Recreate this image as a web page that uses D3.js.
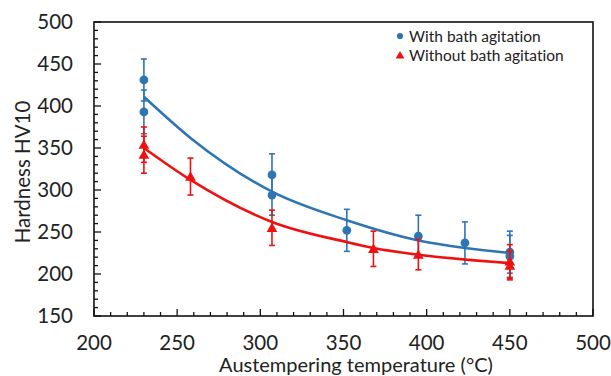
<!DOCTYPE html>
<html>
<head>
<meta charset="utf-8">
<script src="https://cdn.jsdelivr.net/npm/d3@7"></script>
<style>
  body { margin: 0; background: #fff; }
  svg text { font-family: Lato, "Open Sans", sans-serif; fill: #222; font-variant-ligatures: none; }
</style>
</head>
<body>
<svg id="chart" width="611" height="376"></svg>
<script>
const withTemp = [230, 230, 307, 307, 352, 395, 423, 450, 450];
const withHard = [431, 393, 318, 294, 252, 245, 237, 226, 221];
const withErr = [25, 26, 25, 24, 25, 25, 25, 25, 25];

const withoutTemp = [230, 230, 258, 307, 368, 395, 450, 450];
const withoutHard = [354, 342, 316, 255, 230, 223, 215, 210];
const withoutErr = [21, 22, 22, 21, 21, 18, 20, 17];

// trend lines
const withTrendT = [230, 258, 307, 352, 395, 423, 450];
const withTrendH = [411, 362, 298, 264, 240, 231, 225];
const withoutTrendT = [230, 258, 307, 352, 368, 395, 450];
const withoutTrendH = [350, 312, 262, 238, 231, 223, 213];

const xTicks = [200, 250, 300, 350, 400, 450, 500];
const yTicks = [150, 200, 250, 300, 350, 400, 450, 500];
const legendLabels = ["With bath agitation", "Without bath agitation"];

const blue = "#2e75b6";
const red = "#ee1111";

const size = { left: 94, right: 593, top: 22, bottom: 316 };

const svg = d3.select("#chart");

const x = d3.scaleLinear([200, 500], [size.left, size.right]);
const y = d3.scaleLinear([150, 500], [size.bottom, size.top]);

// frame
svg.append("rect")
  .attr("x", size.left).attr("y", size.top)
  .attr("width", size.right - size.left).attr("height", size.bottom - size.top)
  .attr("fill", "none").attr("stroke", "#111").attr("stroke-width", 1.6);

// inward ticks, minor every 10
const xMinor = d3.range(200, 501, 10);
const yMinor = d3.range(150, 501, 10);
svg.append("g").selectAll("line").data(xMinor).join("line")
  .attr("x1", d => x(d)).attr("x2", d => x(d))
  .attr("y1", size.bottom)
  .attr("y2", d => size.bottom - (d % 50 === 0 ? 7 : 4))
  .attr("stroke", "#111").attr("stroke-width", 1.3);
svg.append("g").selectAll("line").data(yMinor).join("line")
  .attr("y1", d => y(d)).attr("y2", d => y(d))
  .attr("x1", size.left)
  .attr("x2", d => size.left + (d % 50 === 0 ? 7 : 4))
  .attr("stroke", "#111").attr("stroke-width", 1.3);

// tick labels
svg.append("g").selectAll("text").data(xTicks).join("text")
  .attr("x", d => x(d)).attr("y", 349.5)
  .attr("text-anchor", "middle").attr("font-size", 20.5)
  .text(d => d);
svg.append("g").selectAll("text").data(yTicks).join("text")
  .attr("x", 73).attr("y", d => y(d))
  .attr("dy", "0.36em")
  .attr("text-anchor", "end").attr("font-size", 20.5)
  .text(d => d);

// axis titles
svg.append("text")
  .attr("x", 356).attr("y", 371.5)
  .attr("text-anchor", "middle").attr("font-size", 20)
  .text("Austempering temperature (°C)");
svg.append("text")
  .attr("transform", `translate(30, ${(size.top + size.bottom) / 2 + 3}) rotate(-90)`)
  .attr("text-anchor", "middle").attr("font-size", 20.5)
  .text("Hardness HV10");

const line = d3.line().x(d => x(d[0])).y(d => y(d[1])).curve(d3.curveMonotoneX);

const series = [
  { t: withTemp, h: withHard, e: withErr, color: blue, trendT: withTrendT, trendH: withTrendH, shape: d3.symbolCircle },
  { t: withoutTemp, h: withoutHard, e: withoutErr, color: red, trendT: withoutTrendT, trendH: withoutTrendH, shape: d3.symbolTriangle }
];

series.forEach(s => {
  const pts = s.t.map((d, i) => ({ t: d, h: s.h[i], e: s.e[i] }));
  const g = svg.append("g");

  // error bars
  const bars = g.append("g").attr("stroke", s.color).attr("stroke-width", 1.6);
  bars.selectAll(".v").data(pts).join("line")
    .attr("x1", d => x(d.t)).attr("x2", d => x(d.t))
    .attr("y1", d => y(d.h - d.e)).attr("y2", d => y(d.h + d.e));
  [-1, 1].forEach(sign => {
    bars.selectAll(".c" + sign).data(pts).join("line")
      .attr("x1", d => x(d.t) - 3).attr("x2", d => x(d.t) + 3)
      .attr("y1", d => y(d.h + sign * d.e)).attr("y2", d => y(d.h + sign * d.e));
  });

  // trend line
  g.append("path")
    .datum(s.trendT.map((d, i) => [d, s.trendH[i]]))
    .attr("d", line)
    .attr("fill", "none").attr("stroke", s.color).attr("stroke-width", 2.6);

  // markers
  g.append("g").selectAll("path").data(pts).join("path")
    .attr("transform", d => `translate(${x(d.t)}, ${y(d.h) + (s.shape === d3.symbolTriangle ? 1 : 0)})`)
    .attr("d", d3.symbol(s.shape, s.shape === d3.symbolTriangle ? 50 : 60))
    .attr("fill", s.color);
});

// legend
const legend = svg.append("g");
legendLabels.forEach((label, i) => {
  const ly = 36 + i * 19;
  legend.append("path")
    .attr("transform", `translate(400, ${ly + (i ? 1 : 0)})`)
    .attr("d", d3.symbol(i ? d3.symbolTriangle : d3.symbolCircle, i ? 34 : 30))
    .attr("fill", i ? red : blue);
  legend.append("text")
    .attr("x", 409).attr("y", ly)
    .attr("dy", "0.36em").attr("font-size", 15.5)
    .text(label);
});
</script>
</body>
</html>
